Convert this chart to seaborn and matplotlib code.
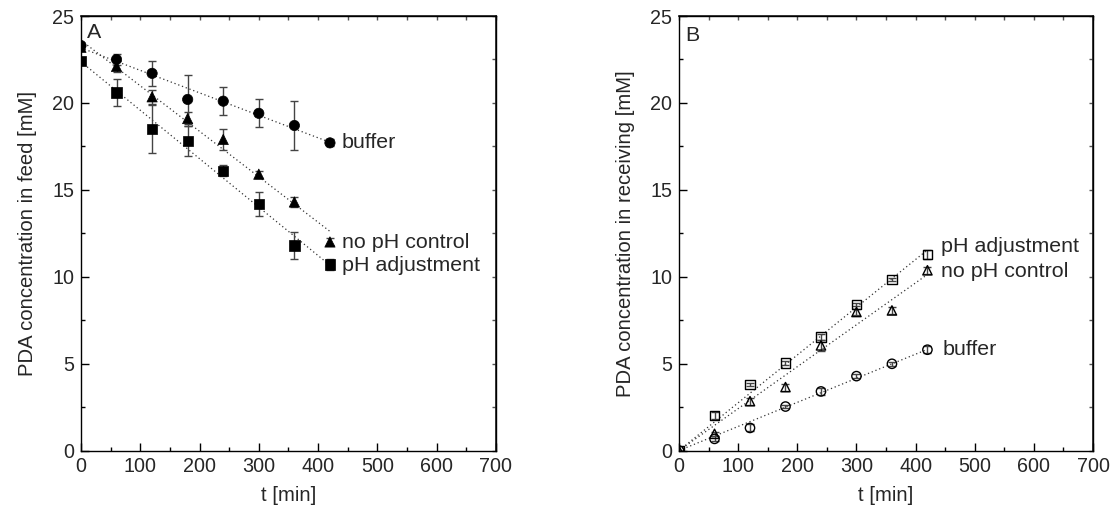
import numpy as np
import pandas as pd
import matplotlib
matplotlib.use("Agg")
import matplotlib.pyplot as plt
from matplotlib.ticker import MultipleLocator, NullFormatter
import seaborn as sns

# ---------------- data ----------------
t = [0, 60, 120, 180, 240, 300, 360, 420]

# Panel A: feed
feed_buffer = [23.3, 22.5, 21.7, 20.2, 20.1, 19.4, 18.7, 17.7]
feed_buffer_err = [0.0, 0.3, 0.7, 1.4, 0.8, 0.8, 1.4, 0.2]
feed_noph = [23.2, 22.1, 20.35, 19.1, 17.9, 15.9, 14.3, 12.0]
feed_noph_err = [0.0, 0.3, 0.4, 0.4, 0.6, 0.2, 0.3, 0.2]
feed_phadj = [22.4, 20.6, 18.5, 17.8, 16.1, 14.2, 11.8, 10.7]
feed_phadj_err = [0.0, 0.75, 1.4, 0.85, 0.3, 0.68, 0.8, 0.3]

# Panel B: receiving
rec_buffer = [0.0, 0.67, 1.3, 2.53, 3.4, 4.28, 4.99, 5.8]
rec_buffer_err = [0.0, 0.15, 0.2, 0.1, 0.2, 0.1, 0.1, 0.2]
rec_noph = [0.0, 0.96, 2.84, 3.65, 6.05, 7.97, 8.06, 10.37]
rec_noph_err = [0.0, 0.1, 0.2, 0.2, 0.3, 0.2, 0.2, 0.2]
rec_phadj = [0.0, 2.02, 3.8, 5.03, 6.53, 8.4, 9.83, 11.29]
rec_phadj_err = [0.0, 0.2, 0.1, 0.1, 0.2, 0.1, 0.1, 0.25]

series_names = ["buffer", "no pH control", "pH adjustment"]
x_label = "t [min]"
y_label_a = "PDA concentration in feed [mM]"
y_label_b = "PDA concentration in receiving [mM]"

# ---------------- style ----------------
sns.set_theme(style="ticks")
plt.rcParams["font.family"] = ["Liberation Sans", "DejaVu Sans"]
FS_TICK = 14.2
FS_LABEL = 14.6
FS_NOTE = 15.4
plt.rcParams["font.size"] = FS_TICK

fig = plt.figure(figsize=(11.15, 5.13), dpi=100)
axA = fig.add_axes([0.0726, 0.1218, 0.3722, 0.847])
axB = fig.add_axes([0.609, 0.1218, 0.3713, 0.847])

markers = {"buffer": "o", "no pH control": "^", "pH adjustment": "s"}


def build_df(vals, errs):
    rows = []
    for name, v, e in zip(series_names, vals, errs):
        for ti, vi, ei in zip(t, v, e):
            rows.append({"t": ti, "c": vi, "err": ei, "series": name})
    return pd.DataFrame(rows)


dfA = build_df([feed_buffer, feed_noph, feed_phadj],
               [feed_buffer_err, feed_noph_err, feed_phadj_err])
dfB = build_df([rec_buffer, rec_noph, rec_phadj],
               [rec_buffer_err, rec_noph_err, rec_phadj_err])

xfit = np.linspace(0, 420, 50)
dots = (0, (1, 2.2))

# Panel A
for name in series_names:
    d = dfA[dfA.series == name]
    axA.errorbar(d.t, d.c, yerr=d.err, fmt="none", ecolor="#444444",
                 elinewidth=1, capsize=3, capthick=1, zorder=2)
    p = np.polyfit(d.t.values.astype(float), d.c.values, 1)
    axA.plot(xfit, np.polyval(p, xfit), ls=dots, color="#333333",
             lw=0.9, zorder=1)
sns.scatterplot(data=dfA, x="t", y="c", style="series", markers=markers,
                color="black", s=55, edgecolor="black", linewidth=0.5,
                legend=False, ax=axA, zorder=3)

# Panel B
for name in series_names:
    d = dfB[dfB.series == name]
    axB.errorbar(d.t, d.c, yerr=d.err, fmt="none", ecolor="#444444",
                 elinewidth=1, capsize=3, capthick=1, zorder=2)
    x = d.t.values.astype(float)
    y = d.c.values
    slope = np.sum(x * y) / np.sum(x * x)
    axB.plot(xfit, slope * xfit, ls=dots, color="#333333",
             lw=0.9, zorder=1)
sns.scatterplot(data=dfB, x="t", y="c", style="series", markers=markers,
                color="none", s=45, edgecolor="black", linewidth=1,
                legend=False, ax=axB, zorder=3)
for coll in axB.collections:
    try:
        coll.set_facecolor("none")
    except Exception:
        pass

# annotations
axA.text(440, 17.7, "buffer", va="center", ha="left", fontsize=FS_NOTE)
axA.text(440, 11.95, "no pH control", va="center", ha="left", fontsize=FS_NOTE)
axA.text(440, 10.65, "pH adjustment", va="center", ha="left", fontsize=FS_NOTE)
axB.text(443, 11.75, "pH adjustment", va="center", ha="left", fontsize=FS_NOTE)
axB.text(443, 10.3, "no pH control", va="center", ha="left", fontsize=FS_NOTE)
axB.text(446, 5.8, "buffer", va="center", ha="left", fontsize=FS_NOTE)
axA.text(10, 24.05, "A", va="center", ha="left", fontsize=FS_NOTE)
axB.text(10, 23.9, "B", va="center", ha="left", fontsize=FS_NOTE)

for ax, yl in [(axA, y_label_a), (axB, y_label_b)]:
    ax.set_xlim(0, 700)
    ax.set_ylim(0, 25)
    ax.set_xlabel(x_label, fontsize=FS_LABEL, labelpad=7)
    ax.set_ylabel(yl, fontsize=FS_LABEL, labelpad=11)
    ax.xaxis.set_major_locator(MultipleLocator(100))
    ax.xaxis.set_minor_locator(MultipleLocator(50))
    ax.yaxis.set_major_locator(MultipleLocator(5))
    ax.yaxis.set_minor_locator(MultipleLocator(2.5))
    ax.tick_params(which="major", direction="in", length=6, width=1,
                   labelsize=FS_TICK, top=False, right=False, color="black",
                   pad=5)
    ax.tick_params(which="minor", direction="in", length=3, width=1,
                   top=False, right=False, color="black")
    sx = ax.secondary_xaxis("top")
    sx.xaxis.set_major_locator(MultipleLocator(50))
    sx.xaxis.set_major_formatter(NullFormatter())
    sx.tick_params(direction="in", length=3, width=1, color="#555555")
    sy = ax.secondary_yaxis("right")
    sy.yaxis.set_major_locator(MultipleLocator(2.5))
    sy.yaxis.set_major_formatter(NullFormatter())
    sy.tick_params(direction="in", length=3, width=1, color="#555555")
    for s in ax.spines.values():
        s.set_linewidth(1)
        s.set_color("black")
    ax.set_facecolor("white")

fig.savefig("out.png", dpi=100, facecolor="white")
